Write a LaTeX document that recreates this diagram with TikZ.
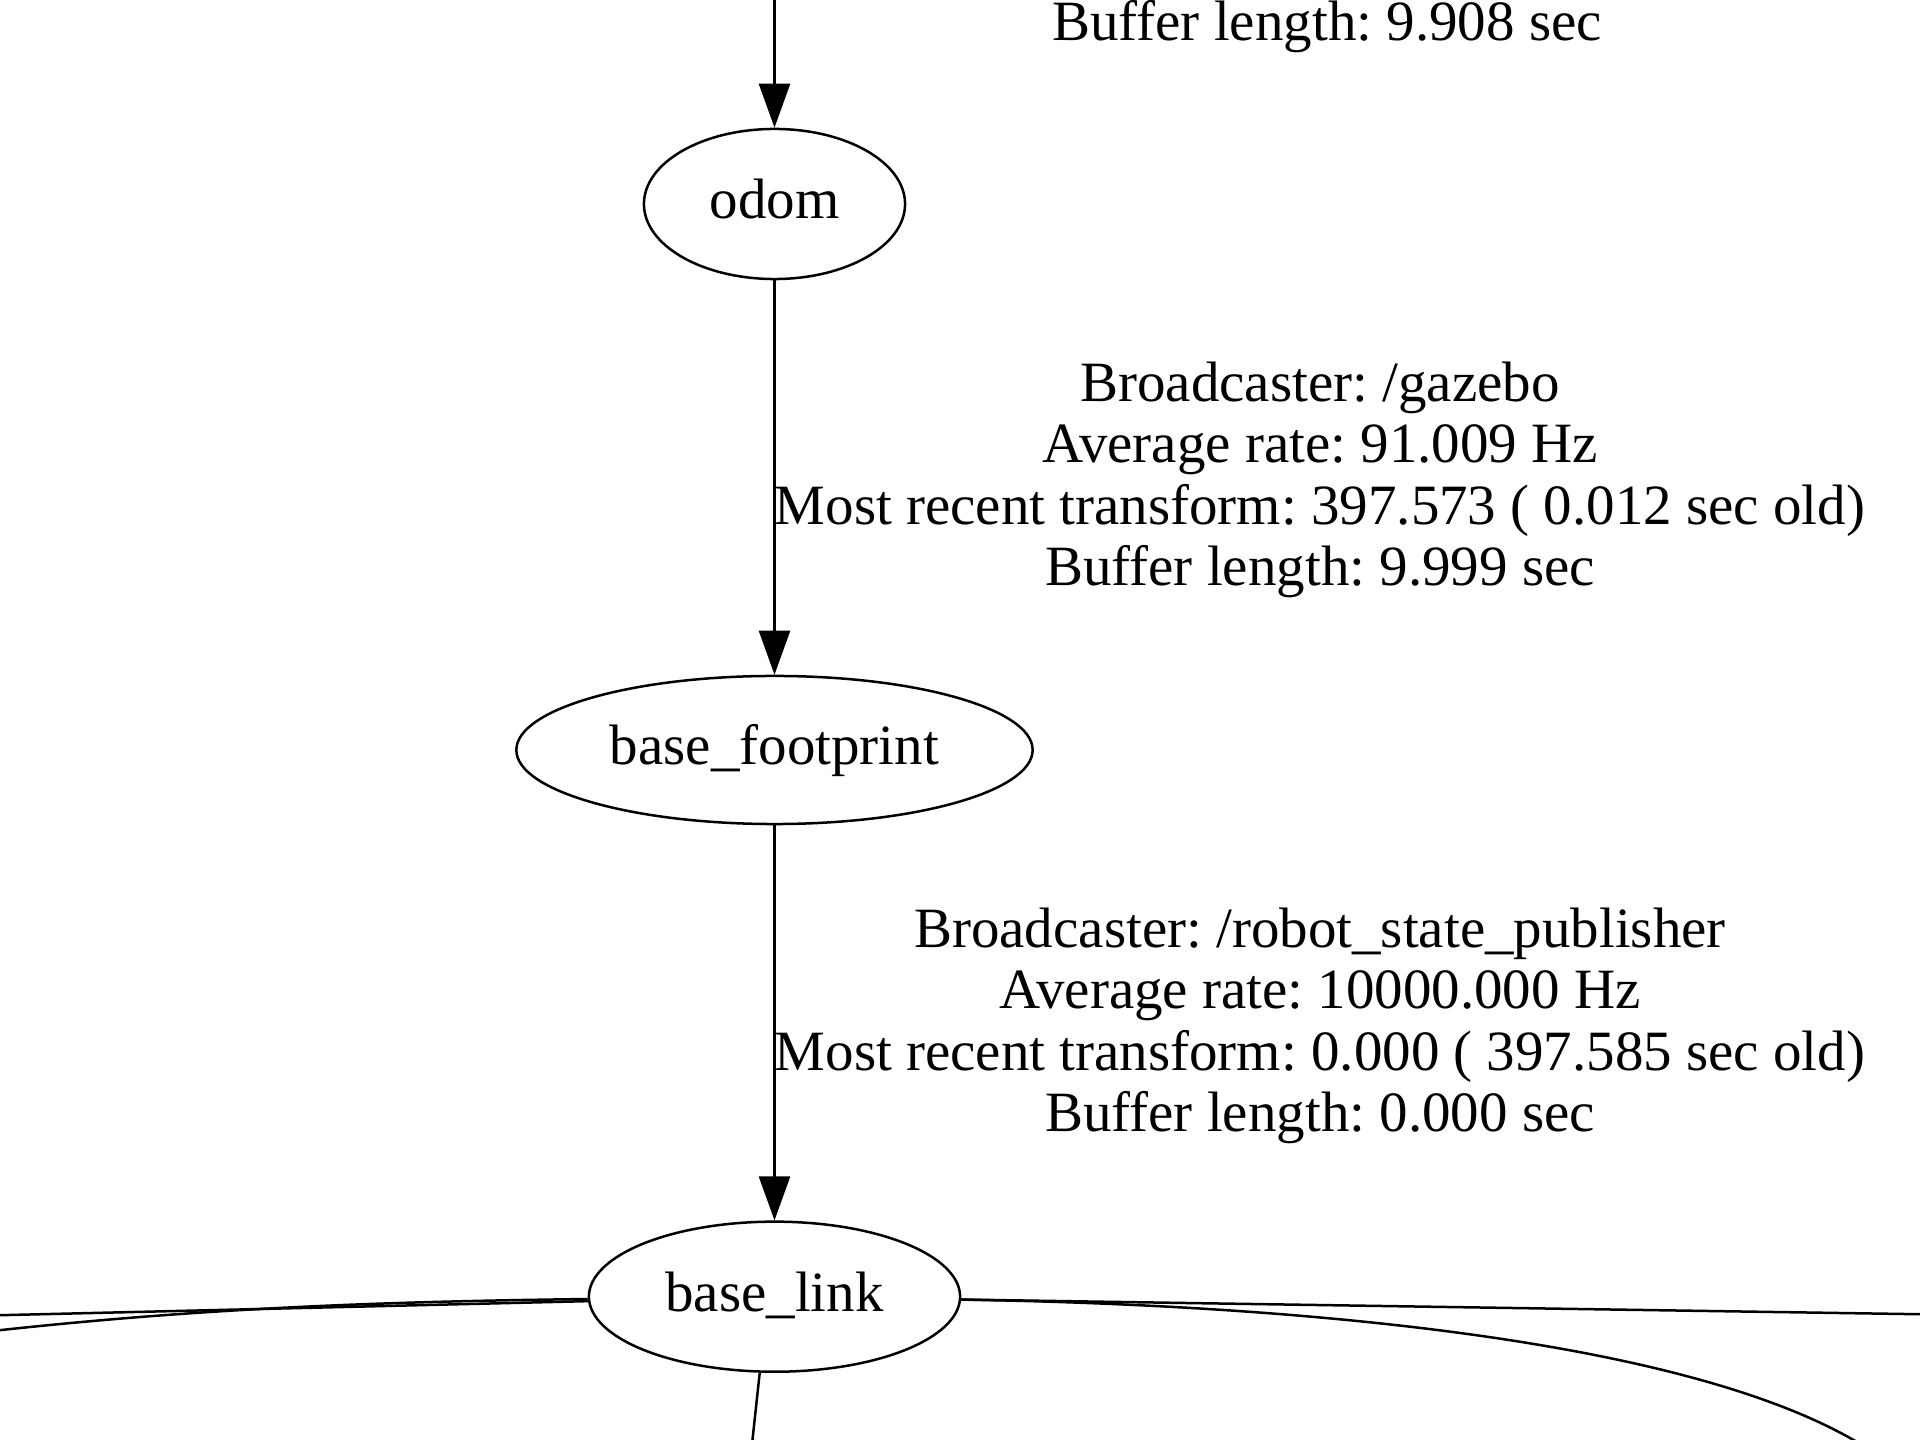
\documentclass[tikz,border=0pt]{standalone}
\usepackage{fontspec}
\setmainfont{Liberation Serif}
\usetikzlibrary{arrows.meta,shapes.geometric}
\frenchspacing
\begin{document}
\begin{tikzpicture}[x=0.01cm,y=-0.01cm, line width=0.025cm,
  frame/.style={draw, ellipse, inner sep=0pt, font=\fontsize{16.2pt}{17.5pt}\selectfont, text height=0.87em, text depth=0.05em},
  lbl/.style={align=center, inner sep=0pt, font=\fontsize{16.2pt}{17.5pt}\selectfont\frenchspacing},
  tf/.style={-{Triangle[length=0.44cm,width=0.31cm]}},
  edge/.style={line width=0.025cm}]
\useasboundingbox (0,0) rectangle (1920,1440);
\fill[white] (0,0) rectangle (1920,1440);
\clip (0,0) rectangle (1920,1440);
% nodes
\node[frame, minimum width=2.61cm, minimum height=1.5cm] (odom) at (774.5,204) {odom};
\node[frame, minimum width=5.16cm, minimum height=1.48cm] (bfp) at (774.5,750) {base\_footprint};
\node[frame, minimum width=3.71cm, minimum height=1.5cm] (bl) at (774.5,1296.7) {base\_link};
% free ends
\coordinate (topin) at (774.5,-80);
\coordinate (l1) at (-200,1320);
\coordinate (l2) at (-100,1342);
\coordinate (r1) at (2100,1317);
\coordinate (r2) at (1870,1450);
\coordinate (bo) at (746,1500);
% edges
\draw[edge,tf] (topin) -- (odom);
\draw[edge,tf] (odom) -- (bfp);
\draw[edge,tf] (bfp) -- (bl);
\draw[edge] (bl) -- (l1);
\draw[edge] (bl) .. controls (350,1302) and (150,1310) .. (l2);
\draw[edge] (bl) -- (r1);
\draw[edge] (bl) .. controls (1300,1305) and (1700,1340) .. (r2);
\draw[edge] (bl.-101) -- (bo);
% labels
\node[lbl, anchor=base] (ltop) at (1327,41) {Buffer length: 9.908 sec};
\node[lbl] (l_gazebo) at (1320,480) {Broadcaster: /gazebo\\Average rate: 91.009 Hz\\Most recent transform: 397.573 ( 0.012 sec old)\\Buffer length: 9.999 sec};
\node[lbl] (l_rsp) at (1320,1026) {Broadcaster: /robot\_state\_publisher\\Average rate: 10000.000 Hz\\Most recent transform: 0.000 ( 397.585 sec old)\\Buffer length: 0.000 sec};
\end{tikzpicture}
\end{document}
